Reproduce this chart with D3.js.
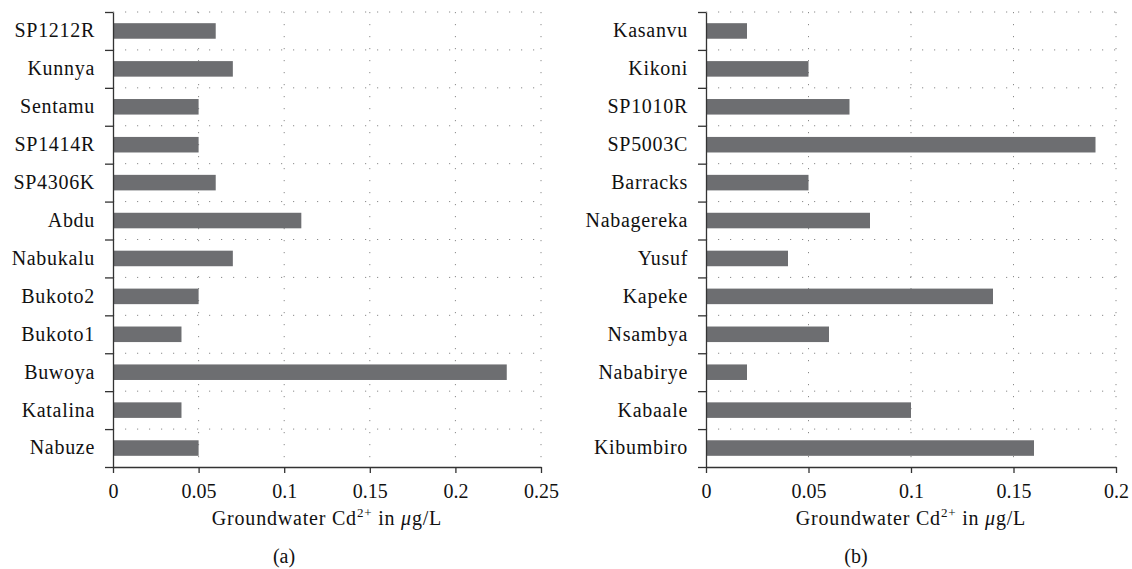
<!DOCTYPE html>
<html>
<head>
<meta charset="utf-8">
<script src="https://cdn.jsdelivr.net/npm/d3@7"></script>
<style>
  body { margin: 0; background: #fff; }
  svg text { font-family: "Liberation Serif", "DejaVu Serif", serif; fill: #111; }
</style>
</head>
<body>
<svg id="chart" width="1132" height="569"></svg>
<script>
// Panel (a) data, top to bottom
const sitesA = ["SP1212R", "Kunnya", "Sentamu", "SP1414R", "SP4306K", "Abdu", "Nabukalu",
                "Bukoto2", "Bukoto1", "Buwoya", "Katalina", "Nabuze"];
const valuesA = [0.06, 0.07, 0.05, 0.05, 0.06, 0.11, 0.07, 0.05, 0.04, 0.23, 0.04, 0.05];
const ticksA = [0, 0.05, 0.1, 0.15, 0.2, 0.25];

// Panel (b) data, top to bottom
const sitesB = ["Kasanvu", "Kikoni", "SP1010R", "SP5003C", "Barracks", "Nabagereka", "Yusuf",
                "Kapeke", "Nsambya", "Nababirye", "Kabaale", "Kibumbiro"];
const valuesB = [0.02, 0.05, 0.07, 0.19, 0.05, 0.08, 0.04, 0.14, 0.06, 0.02, 0.10, 0.16];
const ticksB = [0, 0.05, 0.1, 0.15, 0.2];

const svg = d3.select("#chart");
const plotTop = 12, plotBottom = 467;

function drawPanel(sites, values, ticks, x0, x1, captionX, caption) {
    const g = svg.append("g");
    const x = d3.scaleLinear().domain([0, d3.max(ticks)]).range([x0, x1]);
    const y = d3.scaleBand().domain(sites).range([plotTop, plotBottom]).padding(0);
    const yEdge = d3.scaleLinear().domain([0, sites.length]).range([plotTop, plotBottom]);
    const bw = y.bandwidth();
    const barH = bw * 0.41;

    // dotted grid: horizontal at category boundaries, vertical at x ticks
    g.selectAll(".hgrid")
        .data(d3.range(sites.length))
        .join("line")
        .attr("x1", x0).attr("x2", x1)
        .attr("y1", d => yEdge(d)).attr("y2", d => yEdge(d))
        .attr("stroke", "#8a8a8a").attr("stroke-width", 1)
        .attr("stroke-dasharray", "1.2 10.8");
    g.selectAll(".vgrid")
        .data(ticks.filter(t => t > 0))
        .join("line")
        .attr("x1", d => x(d)).attr("x2", d => x(d))
        .attr("y1", plotTop).attr("y2", plotBottom)
        .attr("stroke", "#8a8a8a").attr("stroke-width", 1)
        .attr("stroke-dasharray", "1.2 10.8");

    // bars
    g.selectAll(".bar")
        .data(sites)
        .join("rect")
        .attr("x", x0)
        .attr("y", d => y(d) + (bw - barH) / 2)
        .attr("width", (d, i) => x(values[i]) - x0)
        .attr("height", barH)
        .attr("fill", "#6d6e71");

    // y axis: boundary ticks
    g.append("g")
        .attr("transform", `translate(${x0},0)`)
        .call(d3.axisLeft(yEdge).tickValues(d3.range(sites.length + 1)).tickSize(8)
            .tickSizeOuter(0).tickFormat(""))
        .call(a => a.selectAll("line, path").attr("stroke", "#333").attr("stroke-width", 1.3));

    // y axis: category labels
    g.append("g")
        .attr("transform", `translate(${x0},0)`)
        .call(d3.axisLeft(y).tickSize(0).tickPadding(18))
        .call(a => a.select(".domain").remove())
        .call(a => a.selectAll("text")
            .attr("font-size", 20).attr("font-family", null)
            .style("letter-spacing", "0.7px").attr("fill", "#111"));

    // x axis
    g.append("g")
        .attr("transform", `translate(0,${plotBottom})`)
        .call(d3.axisBottom(x).tickValues(ticks).tickSize(6).tickSizeOuter(0).tickPadding(11)
            .tickFormat(d => String(+d.toFixed(2))))
        .call(a => a.selectAll("line, path").attr("stroke", "#333").attr("stroke-width", 1.3))
        .call(a => a.selectAll("text")
            .attr("font-size", 20).attr("font-family", null).attr("fill", "#111"));

    // axis title
    const t = g.append("text")
        .attr("x", (x0 + x1) / 2).attr("y", 525)
        .attr("text-anchor", "middle")
        .attr("font-size", 20)
        .style("letter-spacing", "0.8px");
    t.append("tspan").text("Groundwater Cd");
    t.append("tspan").attr("font-size", 13).attr("dy", -8).text("2+");
    t.append("tspan").attr("dy", 8).text(" in ");
    t.append("tspan").attr("font-style", "italic").text("\u03bc");
    t.append("tspan").text("g/L");

    // panel caption
    g.append("text")
        .attr("x", captionX).attr("y", 563)
        .attr("text-anchor", "middle")
        .attr("font-size", 20)
        .text(caption);
}

drawPanel(sitesA, valuesA, ticksA, 113, 541, 284, "(a)");
drawPanel(sitesB, valuesB, ticksB, 706, 1116, 856, "(b)");
</script>
</body>
</html>
